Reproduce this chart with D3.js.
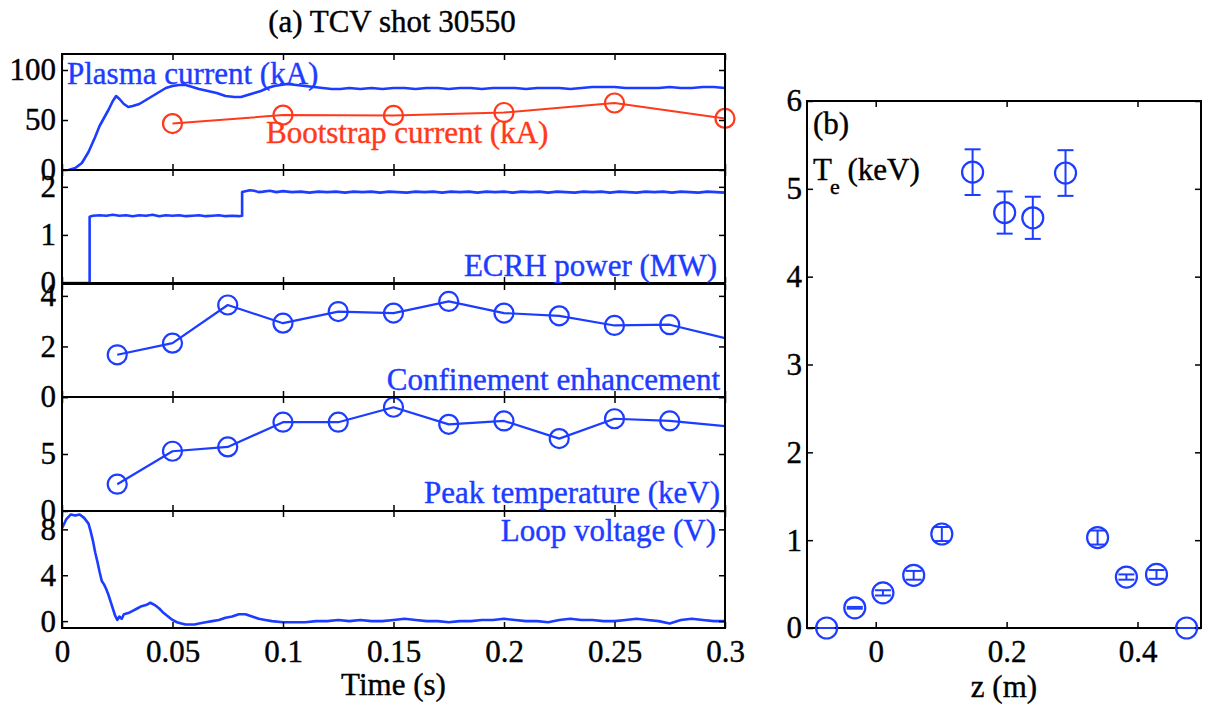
<!DOCTYPE html>
<html>
<head>
<meta charset="utf-8">
<script src="https://cdn.jsdelivr.net/npm/d3@7"></script>
<style>
  body { margin: 0; background: #fff; }
  svg text { font-family: 'Liberation Serif', 'Times New Roman', serif; }
</style>
</head>
<body>
<div id="chart"></div>
<script>
const blue = '#1c3cff'
const red = '#ff3a1c'

// (a) time traces, [time (s), value]
const plasmaCurrent = [[0.003,0],[0.006,2],[0.009,7],[0.012,18],[0.015,33],[0.017,44],[0.019,52],[0.021,60],[0.023,69],[0.0245,74],[0.026,71],[0.028,66],[0.030,63],[0.032,64],[0.035,66],[0.038,70],[0.041,74],[0.044,78],[0.047,82],[0.050,84],[0.053,85],[0.056,85],[0.059,83],[0.062,81],[0.066,79],[0.070,77],[0.074,74],[0.078,73],[0.081,73],[0.084,75],[0.087,77],[0.090,79],[0.093,82],[0.096,84],[0.099,85],[0.102,86],[0.106,85],[0.110,84],[0.114,83],[0.118,82],[0.122,81],[0.126,81],[0.130,82],[0.135,81],[0.140,82],[0.145,81],[0.150,82],[0.155,82],[0.160,81],[0.165,82],[0.170,82],[0.175,81],[0.180,82],[0.185,82],[0.190,81],[0.195,82],[0.200,82],[0.205,82],[0.210,81],[0.215,82],[0.220,82],[0.225,82],[0.230,81],[0.235,82],[0.240,83],[0.245,83],[0.250,83],[0.255,82],[0.260,82],[0.265,82],[0.270,82],[0.275,83],[0.280,82],[0.285,82],[0.290,83],[0.295,83],[0.300,82]]

const bootstrapCurrent = [[0.05,46.4],[0.1,54.9],[0.15,54.6],[0.2,57.5],[0.25,67],[0.3,51.6]]

const ecrhPower = [[0,0],[0.0125,0],[0.0125,1.38],[0.014,1.40],[0.017,1.41],[0.020,1.40],[0.023,1.42],[0.026,1.40],[0.029,1.41],[0.032,1.39],[0.035,1.41],[0.038,1.40],[0.041,1.42],[0.044,1.39],[0.047,1.41],[0.050,1.40],[0.053,1.41],[0.056,1.39],[0.059,1.40],[0.062,1.41],[0.065,1.39],[0.068,1.40],[0.071,1.41],[0.074,1.39],[0.077,1.40],[0.080,1.39],[0.0815,1.40],[0.0815,1.89],[0.083,1.91],[0.085,1.93],[0.087,1.92],[0.089,1.89],[0.091,1.90],[0.094,1.92],[0.097,1.89],[0.100,1.91],[0.104,1.89],[0.108,1.90],[0.112,1.88],[0.116,1.90],[0.120,1.89],[0.124,1.90],[0.128,1.88],[0.132,1.90],[0.136,1.89],[0.140,1.90],[0.144,1.88],[0.148,1.90],[0.152,1.89],[0.156,1.88],[0.160,1.90],[0.164,1.89],[0.168,1.90],[0.172,1.88],[0.176,1.90],[0.180,1.89],[0.184,1.90],[0.188,1.88],[0.192,1.90],[0.196,1.89],[0.200,1.90],[0.204,1.88],[0.208,1.90],[0.212,1.89],[0.216,1.90],[0.220,1.88],[0.224,1.90],[0.228,1.89],[0.232,1.88],[0.236,1.90],[0.240,1.89],[0.244,1.90],[0.248,1.88],[0.252,1.90],[0.256,1.89],[0.260,1.88],[0.264,1.90],[0.268,1.89],[0.272,1.90],[0.276,1.88],[0.280,1.90],[0.284,1.89],[0.288,1.88],[0.292,1.90],[0.296,1.89],[0.300,1.88]]

const confinement = [[0.025,1.67],[0.05,2.13],[0.075,3.64],[0.1,2.92],[0.125,3.38],[0.15,3.32],[0.175,3.78],[0.2,3.32],[0.225,3.21],[0.25,2.83],[0.275,2.86]]
const confinementEnd = [0.3, 2.33]

const peakTemp = [[0.025,2.35],[0.05,5.24],[0.075,5.62],[0.1,7.79],[0.125,7.79],[0.15,9.1],[0.175,7.6],[0.2,7.9],[0.225,6.35],[0.25,8.09],[0.275,7.9]]
const peakTempEnd = [0.3, 7.44]

const loopVoltage = [[0,8.1],[0.002,8.9],[0.004,9.3],[0.006,9.2],[0.008,9.3],[0.010,9.0],[0.012,8.5],[0.013,7.8],[0.014,7.0],[0.015,6.0],[0.016,5.2],[0.017,4.3],[0.018,3.5],[0.019,3.2],[0.020,2.8],[0.021,2.3],[0.022,1.7],[0.023,1.1],[0.024,0.5],[0.025,0.1],[0.026,0.4],[0.027,0.2],[0.028,0.6],[0.030,0.7],[0.032,0.9],[0.034,1.1],[0.036,1.3],[0.038,1.4],[0.040,1.6],[0.042,1.4],[0.044,1.1],[0.046,0.7],[0.048,0.4],[0.050,0.1],[0.052,-0.1],[0.054,-0.2],[0.056,-0.3],[0.058,-0.3],[0.060,-0.3],[0.062,-0.2],[0.065,-0.1],[0.068,0.0],[0.071,0.1],[0.074,0.3],[0.077,0.4],[0.080,0.6],[0.083,0.6],[0.086,0.4],[0.089,0.2],[0.092,0.1],[0.095,0.0],[0.100,-0.1],[0.105,-0.1],[0.110,-0.1],[0.115,0.0],[0.120,0.0],[0.125,0.1],[0.130,0.0],[0.135,0.1],[0.140,0.0],[0.145,0.0],[0.150,0.1],[0.155,0.2],[0.160,0.1],[0.165,0.0],[0.170,0.0],[0.175,-0.1],[0.180,0.0],[0.185,0.0],[0.190,0.1],[0.195,0.1],[0.200,0.2],[0.205,0.1],[0.210,0.0],[0.215,0.0],[0.220,-0.1],[0.225,0.1],[0.230,0.2],[0.235,0.1],[0.240,0.1],[0.245,0.0],[0.250,0.0],[0.255,0.1],[0.260,0.2],[0.265,0.1],[0.270,0.0],[0.275,-0.2],[0.280,0.1],[0.285,0.2],[0.290,0.1],[0.295,0.0],[0.300,0.0]]

const timeTicks = [0, 0.05, 0.1, 0.15, 0.2, 0.25, 0.3]

// (b) profile: z (m), Te (keV), error
const zPos = [-0.075, -0.032, 0.011, 0.058, 0.101, 0.148, 0.197, 0.240, 0.290, 0.339, 0.383, 0.429, 0.475]
const teVals = [0, 0.23, 0.40, 0.60, 1.07, 5.19, 4.73, 4.67, 5.18, 1.03, 0.58, 0.61, 0]
const teErr = [0, 0.01, 0.03, 0.05, 0.08, 0.26, 0.24, 0.24, 0.26, 0.08, 0.03, 0.05, 0]
const zTicks = [0, 0.2, 0.4]
const teTicks = [0, 1, 2, 3, 4, 5, 6]

const svg = d3.select('#chart').append('svg')
    .attr('width', 1206)
    .attr('height', 704)

// data goes under the frames
const dataLayer = svg.append('g')
const axisLayer = svg.append('g')

const fontSize = 31
const tickFont = 31
const x = d3.scaleLinear().domain([0, 0.3]).range([62, 725])

const panels = [
    { top: 54, bottom: 170, domain: [0, 116], ticks: [0, 50, 100], labels: [0, 50, 100] },
    { top: 170, bottom: 283, domain: [0, 2.35], ticks: [0, 1, 2], labels: [0, 1, 2] },
    { top: 284, bottom: 397, domain: [0, 4.47], ticks: [0, 2, 4], labels: [0, 2, 4] },
    { top: 397, bottom: 511, domain: [0, 10], ticks: [0, 5, 10], labels: [0, 5] },
    { top: 511, bottom: 628, domain: [-0.6, 9.6], ticks: [0, 4, 8], labels: [0, 4, 8] }
]

function styleAxis(g) {
    g.select('.domain').remove()
    g.selectAll('line').attr('stroke', '#000').attr('stroke-width', 1.5)
    g.selectAll('text')
        .attr('font-size', tickFont)
        .attr('font-family', "'Liberation Serif', serif")
        .attr('fill', '#000')
        .attr('stroke', '#000')
        .attr('stroke-width', 0.4)
}

function frame(x0, y0, x1, y1) {
    axisLayer.append('rect')
        .attr('x', x0)
        .attr('y', y0)
        .attr('width', x1 - x0)
        .attr('height', y1 - y0)
        .attr('fill', 'none')
        .attr('stroke', '#000')
        .attr('stroke-width', 2)
}

panels.forEach((p, i) => {
    p.y = d3.scaleLinear().domain(p.domain).range([p.bottom, p.top])

    axisLayer.append('g')
        .attr('transform', `translate(${x.range()[0]},0)`)
        .call(d3.axisLeft(p.y).tickValues(p.ticks).tickSize(-6).tickPadding(6)
            .tickFormat(d => p.labels.includes(d) ? d : ''))
        .call(styleAxis)

    axisLayer.append('g')
        .attr('transform', `translate(${x.range()[1]},0)`)
        .call(d3.axisRight(p.y).tickValues(p.ticks).tickSize(-6).tickFormat(''))
        .call(styleAxis)

    axisLayer.append('g')
        .attr('transform', `translate(0,${p.top})`)
        .call(d3.axisTop(x).tickValues(timeTicks).tickSize(-6).tickFormat(''))
        .call(styleAxis)

    axisLayer.append('g')
        .attr('transform', `translate(0,${p.bottom})`)
        .call(d3.axisBottom(x).tickValues(timeTicks).tickSize(-6).tickPadding(12)
            .tickFormat(i === panels.length - 1 ? (d => d) : ''))
        .call(styleAxis)

    frame(x.range()[0], p.top, x.range()[1], p.bottom)
})

function trace(data, p, color, width) {
    const line = d3.line().x(d => x(d[0])).y(d => p.y(d[1]))
    dataLayer.append('path')
        .datum(data)
        .attr('d', line)
        .attr('fill', 'none')
        .attr('stroke', color)
        .attr('stroke-width', width)
        .attr('stroke-linejoin', 'round')
}

function markers(data, p, color, r) {
    dataLayer.append('g').selectAll('circle')
        .data(data)
        .join('circle')
        .attr('cx', d => x(d[0]))
        .attr('cy', d => p.y(d[1]))
        .attr('r', r)
        .attr('fill', 'none')
        .attr('stroke', color)
        .attr('stroke-width', 2.2)
}

function label(text, px, py, color, anchor) {
    svg.append('text')
        .attr('x', px)
        .attr('y', py)
        .attr('text-anchor', anchor)
        .attr('font-size', fontSize)
        .attr('fill', color)
        .attr('stroke', color)
        .attr('stroke-width', 0.4)
        .text(text)
}

// panel 1: plasma + bootstrap current
trace(plasmaCurrent, panels[0], blue, 2.6)
trace(bootstrapCurrent, panels[0], red, 2)
markers(bootstrapCurrent, panels[0], red, 9.5)
label('Plasma current (kA)', 67, 84, blue, 'start')
label('Bootstrap current (kA)', 266, 143, red, 'start')

// panel 2: ECRH
trace(ecrhPower, panels[1], blue, 2.6)
label('ECRH power (MW)', 717, 276, blue, 'end')

// panel 3: confinement
trace(confinement.concat([confinementEnd]), panels[2], blue, 2.2)
markers(confinement, panels[2], blue, 9.5)
label('Confinement enhancement', 720, 390, blue, 'end')

// panel 4: peak temperature
trace(peakTemp.concat([peakTempEnd]), panels[3], blue, 2.2)
markers(peakTemp, panels[3], blue, 9.5)
label('Peak temperature (keV)', 720, 503, blue, 'end')

// panel 5: loop voltage
trace(loopVoltage, panels[4], blue, 2.6)
label('Loop voltage (V)', 716, 541, blue, 'end')

label('(a) TCV shot 30550', 392, 32, '#000', 'middle')
label('Time (s)', (x.range()[0] + x.range()[1]) / 2, 695, '#000', 'middle')

// (b) Te profile
const zx = d3.scaleLinear().domain([-0.105, 0.497]).range([807, 1201])
const ty = d3.scaleLinear().domain([0, 6]).range([628, 101])

axisLayer.append('g')
    .attr('transform', 'translate(807,0)')
    .call(d3.axisLeft(ty).tickValues(teTicks).tickSize(-6).tickPadding(5).tickFormat(d => d))
    .call(styleAxis)
axisLayer.append('g')
    .attr('transform', 'translate(1201,0)')
    .call(d3.axisRight(ty).tickValues(teTicks).tickSize(-6).tickFormat(''))
    .call(styleAxis)
axisLayer.append('g')
    .attr('transform', 'translate(0,101)')
    .call(d3.axisTop(zx).tickValues(zTicks).tickSize(-6).tickFormat(''))
    .call(styleAxis)
axisLayer.append('g')
    .attr('transform', 'translate(0,628)')
    .call(d3.axisBottom(zx).tickValues(zTicks).tickSize(-6).tickPadding(12).tickFormat(d => d))
    .call(styleAxis)
frame(807, 101, 1201, 628)

const profile = zPos.map((z, i) => ({ z: z, te: teVals[i], err: teErr[i] }))
const pts = svg.append('g').selectAll('g')
    .data(profile)
    .join('g')
    .attr('stroke', blue)
    .attr('stroke-width', 2)
    .attr('fill', 'none')

pts.append('line')
    .attr('x1', d => zx(d.z)).attr('x2', d => zx(d.z))
    .attr('y1', d => ty(d.te - d.err)).attr('y2', d => ty(d.te + d.err))
pts.append('line')
    .attr('x1', d => zx(d.z) - 8).attr('x2', d => zx(d.z) + 8)
    .attr('y1', d => ty(d.te + d.err)).attr('y2', d => ty(d.te + d.err))
pts.append('line')
    .attr('x1', d => zx(d.z) - 8).attr('x2', d => zx(d.z) + 8)
    .attr('y1', d => ty(d.te - d.err)).attr('y2', d => ty(d.te - d.err))
pts.append('circle')
    .attr('cx', d => zx(d.z))
    .attr('cy', d => ty(d.te))
    .attr('r', 10.5)
    .attr('stroke-width', 2.2)

label('(b)', 813, 134, '#000', 'start')
const teLabel = svg.append('text')
    .attr('x', 813)
    .attr('y', 180)
    .attr('font-size', fontSize)
    .attr('fill', '#000')
    .attr('stroke', '#000')
    .attr('stroke-width', 0.4)
teLabel.append('tspan').text('T')
teLabel.append('tspan').attr('dy', 14).attr('dx', -2).attr('font-size', 22).text('e')
teLabel.append('tspan').attr('dy', -14).text(' (keV)')
label('z (m)', (807 + 1201) / 2, 697, '#000', 'middle')
</script>
</body>
</html>
